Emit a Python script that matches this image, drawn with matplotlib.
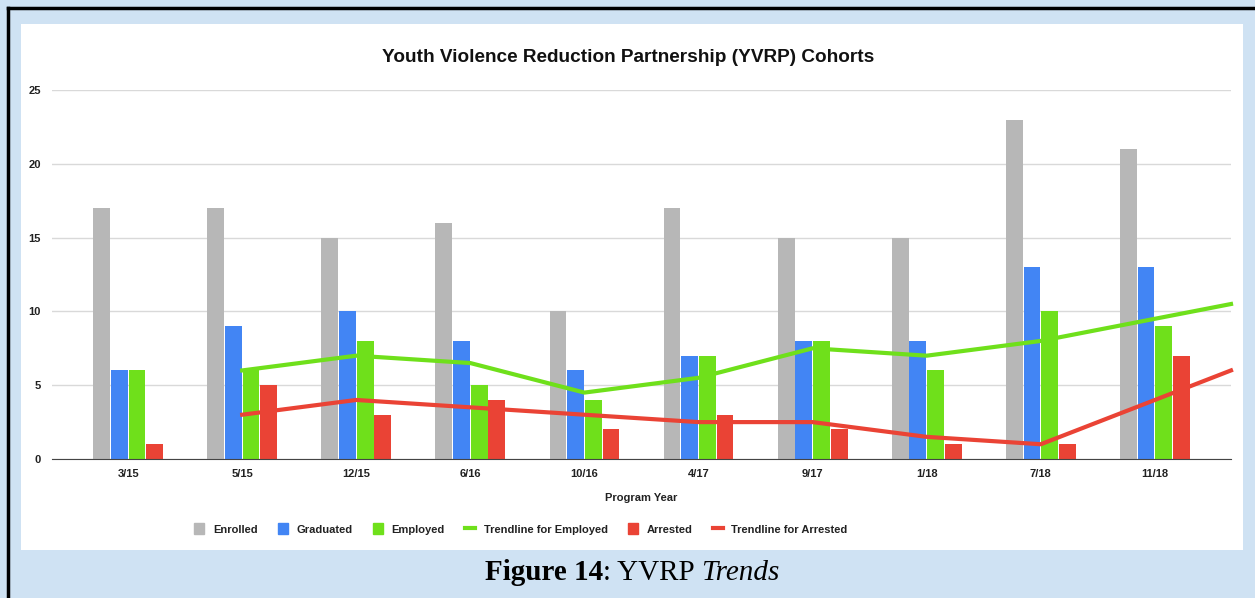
import matplotlib.pyplot as plt
import matplotlib.patches as mpatches
from matplotlib.lines import Line2D
import numpy as np

plt.rcParams['font.family'] = ['Liberation Sans', 'DejaVu Sans']

# data
years = ["3/15", "5/15", "12/15", "6/16", "10/16", "4/17", "9/17", "1/18", "7/18", "11/18"]
enrolled = [17, 17, 15, 16, 10, 17, 15, 15, 23, 21]
graduated = [6, 9, 10, 8, 6, 7, 8, 8, 13, 13]
employed = [6, 6, 8, 5, 4, 7, 8, 6, 10, 9]
arrested = [1, 5, 3, 4, 2, 3, 2, 1, 1, 7]
# trendline values (from 5/15 onwards)
trend_employed = [6, 7, 6.5, 4.5, 5.5, 7.5, 7, 8, 9.5]
trend_arrested = [3, 4, 3.5, 3, 2.5, 2.5, 1.5, 1, 4]

c_enr = "#b7b7b7"
c_grad = "#4285f4"
c_emp = "#6fe01b"
c_arr = "#ea4335"

W, H = 1255, 598
fig = plt.figure(figsize=(W / 100, H / 100), dpi=100)
fig.patch.set_facecolor("#cfe2f3")

# white chart panel
fig.patches.append(mpatches.Rectangle((21 / W, 1 - 550 / H), (1243 - 21) / W, (550 - 24) / H,
                                      transform=fig.transFigure, facecolor="white", edgecolor="none", zorder=-5))
# black frame lines (left, top)
fig.add_artist(Line2D([8 / W, 8 / W], [0, 1 - 8 / H], transform=fig.transFigure, color="black", lw=2.5))
fig.add_artist(Line2D([8 / W, 1], [1 - 8 / H, 1 - 8 / H], transform=fig.transFigure, color="black", lw=2.5))

ax = fig.add_axes([52 / W, 139 / H, (1231 - 52) / W, (459 - 90) / H])
ax.set_facecolor("none")

x = np.arange(len(years))
bw = 0.155
ax.bar(x - 1.5 * bw, enrolled, bw * 0.95, color=c_enr, zorder=2)
ax.bar(x - 0.5 * bw, graduated, bw * 0.95, color=c_grad, zorder=2)
ax.bar(x + 0.5 * bw, employed, bw * 0.95, color=c_emp, zorder=2)
ax.bar(x + 1.5 * bw, arrested, bw * 0.95, color=c_arr, zorder=2)

xmin, xmax = -0.667, len(years) - 1 + 0.667
tx = list(x[1:])
# extend last trend segment to the right edge of the plot
te = list(trend_employed) + [trend_employed[-1] + (trend_employed[-1] - trend_employed[-2]) * (xmax - tx[-1])]
ta = list(trend_arrested) + [trend_arrested[-1] + (trend_arrested[-1] - trend_arrested[-2]) * (xmax - tx[-1])]
ax.plot(tx + [xmax], te, color=c_emp, lw=3, zorder=3, clip_on=False)
ax.plot(tx + [xmax], ta, color=c_arr, lw=3, zorder=3, clip_on=False)

ax.set_xlim(xmin, xmax)
ax.set_ylim(0, 25)
ax.set_yticks([0, 5, 10, 15, 20, 25])
ax.set_xticks(x)
ax.set_xticklabels(years, fontsize=8, fontweight="bold", color="#222222")
ax.tick_params(axis="y", labelsize=8, length=0, pad=8, labelcolor="#222222")
for lab in ax.get_yticklabels():
    lab.set_fontweight("bold")
ax.tick_params(axis="x", length=0, pad=7)
ax.grid(axis="y", color="#d9d9d9", lw=1, zorder=0)
for s in ["top", "right", "left"]:
    ax.spines[s].set_visible(False)
ax.spines["bottom"].set_color("#444444")
ax.spines["bottom"].set_zorder(4)

ax.set_xlabel("Program Year", fontsize=8, fontweight="bold", labelpad=10, color="#222222")

fig.text(628 / W, 1 - 57 / H, "Youth Violence Reduction Partnership (YVRP) Cohorts",
         ha="center", va="center", fontsize=13.7, fontweight="bold", color="#111111")

handles = [
    mpatches.Patch(color=c_enr, label="Enrolled"),
    mpatches.Patch(color=c_grad, label="Graduated"),
    mpatches.Patch(color=c_emp, label="Employed"),
    Line2D([0], [0], color=c_emp, lw=3, label="Trendline for Employed"),
    mpatches.Patch(color=c_arr, label="Arrested"),
    Line2D([0], [0], color=c_arr, lw=3, label="Trendline for Arrested"),
]
leg = fig.legend(handles=handles, loc="center", bbox_to_anchor=(521 / W, 1 - 529 / H), ncol=6,
                 frameon=False, prop={"size": 8, "weight": "bold"}, handlelength=0.9,
                 handleheight=1.1, handletextpad=0.8, columnspacing=1.8)
for t in leg.get_texts():
    t.set_color("#222222")

# caption, laid out piece by piece and centred as a whole
cy = 1 - 573 / H
serif = ["Liberation Serif", "DejaVu Serif"]
fig.canvas.draw()
r = fig.canvas.get_renderer()
pieces = [("Figure 14", "bold", "normal"), (": YVRP ", "normal", "normal"), ("Trends", "normal", "italic")]
texts = []
for s, w, st in pieces:
    texts.append(fig.text(0, cy, s, fontsize=21, fontweight=w, fontstyle=st, family=serif, ha="left", va="center"))
widths = [t.get_window_extent(r).width / W for t in texts]
start = 632 / W - sum(widths) / 2
for t, w in zip(texts, widths):
    t.set_x(start)
    start += w

fig.savefig("out.png", dpi=100, facecolor=fig.get_facecolor())
